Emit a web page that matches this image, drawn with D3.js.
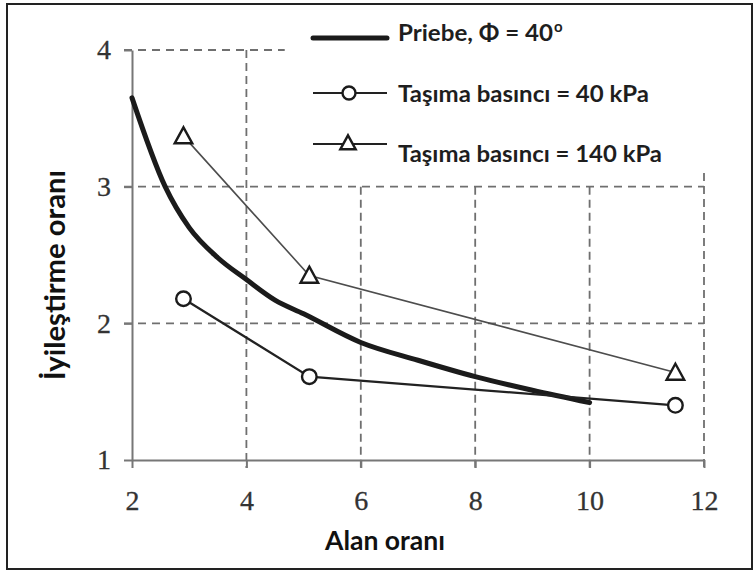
<!DOCTYPE html>
<html>
<head>
<meta charset="utf-8">
<script src="https://cdn.jsdelivr.net/npm/d3@7"></script>
<style>
  html, body { margin: 0; padding: 0; background: #ffffff; }
  svg { display: block; }
</style>
</head>
<body>
<svg id="chart" width="756" height="575"></svg>
<script>
// Alan oranı (x) and iyileştirme oranı (y)
const priebeX = [2.0, 2.58, 3.0, 3.5, 4.0, 4.5, 5.0, 6.0, 7.0, 8.0, 9.0, 10.0];
const priebeY = [3.65, 3.0, 2.70, 2.48, 2.32, 2.17, 2.07, 1.86, 1.73, 1.61, 1.51, 1.42];

const p40X = [2.9, 5.1, 11.5];
const p40Y = [2.18, 1.61, 1.40];

const p140X = [2.9, 5.1, 11.5];
const p140Y = [3.37, 2.35, 1.64];

const xTicks = [2, 4, 6, 8, 10, 12];
const yTicks = [1, 2, 3, 4];

const legendLabels = ["Priebe,  Φ = 40", "Taşıma basıncı = 40 kPa", "Taşıma basıncı = 140 kPa"];

// dashed grid segments (partly hidden behind the legend area)
const hGridY = [4, 3, 2];
const hGridX1 = [4.67, 12, 12];
const vGridX = [4, 6, 8, 10, 12];
const vGridY1 = [4, 3, 3, 3, 3.1];

const svg = d3.select("#chart");

// outer frame
svg.append("rect")
  .attr("x", 7).attr("y", 4).attr("width", 745).attr("height", 565)
  .attr("fill", "#ffffff").attr("stroke", "#222").attr("stroke-width", 2);

const x = d3.scaleLinear().domain([2, 12]).range([132, 704]);
const y = d3.scaleLinear().domain([1, 4]).range([460, 50]);

const gridColor = "#6f6f6f";
const grid = svg.append("g")
  .attr("stroke", gridColor).attr("stroke-width", 1.8)
  .attr("stroke-dasharray", "8,6").attr("fill", "none");

hGridY.forEach((v, i) => {
  grid.append("line")
    .attr("x1", x(2) - 8).attr("x2", x(hGridX1[i]))
    .attr("y1", y(v)).attr("y2", y(v));
});
vGridX.forEach((v, i) => {
  grid.append("line")
    .attr("x1", x(v)).attr("x2", x(v))
    .attr("y1", y(vGridY1[i])).attr("y2", y(1) + 8)
    .attr("stroke-dasharray", "8,5");
});

// axes
const serif = "'Liberation Serif', 'Times New Roman', serif";
const xAxis = svg.append("g")
  .attr("transform", `translate(0,${y(1)})`)
  .call(d3.axisBottom(x).tickValues(xTicks).tickFormat(d3.format("d"))
    .tickSize(8).tickSizeOuter(0).tickPadding(22));
const yAxis = svg.append("g")
  .attr("transform", `translate(${x(2)},0)`)
  .call(d3.axisLeft(y).tickValues(yTicks).tickFormat(d3.format("d"))
    .tickSize(8).tickSizeOuter(0).tickPadding(13));

[xAxis, yAxis].forEach(g => {
  g.attr("font-family", serif).attr("font-size", 28);
  g.select(".domain").attr("stroke", "#777").attr("stroke-width", 2);
  g.selectAll(".tick line").attr("stroke", "#777").attr("stroke-width", 2);
  g.selectAll(".tick text")
    .attr("fill", "#333")
    .attr("stroke", "#333").attr("stroke-width", 0.3);
});
xAxis.selectAll(".tick text").attr("dy", "0.71em");

// Priebe curve
const priebeLine = d3.line()
  .x(d => x(d[0])).y(d => y(d[1]))
  .curve(d3.curveMonotoneX);
svg.append("path")
  .datum(d3.zip(priebeX, priebeY))
  .attr("d", priebeLine)
  .attr("fill", "none").attr("stroke", "#1b1b1b")
  .attr("stroke-width", 5).attr("stroke-linecap", "round").attr("stroke-linejoin", "round");

const straight = d3.line().x(d => x(d[0])).y(d => y(d[1]));

// 140 kPa series
svg.append("path")
  .datum(d3.zip(p140X, p140Y))
  .attr("d", straight)
  .attr("fill", "none").attr("stroke", "#4d4d4d").attr("stroke-width", 1.6);

// 40 kPa series
svg.append("path")
  .datum(d3.zip(p40X, p40Y))
  .attr("d", straight)
  .attr("fill", "none").attr("stroke", "#222").attr("stroke-width", 2.2);

const triPath = s => `M0,${-s * 0.55}L${s * 0.55},${s * 0.45}L${-s * 0.55},${s * 0.45}Z`;

svg.append("g").selectAll("path")
  .data(d3.zip(p140X, p140Y))
  .join("path")
  .attr("transform", d => `translate(${x(d[0])},${y(d[1])})`)
  .attr("d", triPath(16))
  .attr("fill", "#fff").attr("stroke", "#1b1b1b").attr("stroke-width", 2.4)
  .attr("stroke-linejoin", "miter");

svg.append("g").selectAll("circle")
  .data(d3.zip(p40X, p40Y))
  .join("circle")
  .attr("cx", d => x(d[0])).attr("cy", d => y(d[1]))
  .attr("r", 7.3)
  .attr("fill", "#fff").attr("stroke", "#1b1b1b").attr("stroke-width", 2.4);

// legend
const labelFont = "Lato, 'Open Sans', sans-serif";
const legRows = [38, 93, 144];
const leg = svg.append("g");
leg.append("line").attr("x1", 313).attr("x2", 387).attr("y1", legRows[0]).attr("y2", legRows[0])
  .attr("stroke", "#1b1b1b").attr("stroke-width", 5).attr("stroke-linecap", "round");
leg.append("line").attr("x1", 313).attr("x2", 387).attr("y1", legRows[1]).attr("y2", legRows[1])
  .attr("stroke", "#222").attr("stroke-width", 2.2);
leg.append("circle").attr("cx", 349).attr("cy", legRows[1]).attr("r", 6.5)
  .attr("fill", "#fff").attr("stroke", "#1b1b1b").attr("stroke-width", 2.4);
leg.append("line").attr("x1", 313).attr("x2", 387).attr("y1", legRows[2]).attr("y2", legRows[2])
  .attr("stroke", "#222").attr("stroke-width", 2.2);
leg.append("path").attr("transform", `translate(348,${legRows[2] - 1})`).attr("d", triPath(14))
  .attr("fill", "#fff").attr("stroke", "#1b1b1b").attr("stroke-width", 2.4);

const legTextY = [41, 102, 162];
const legWidths = [155, 251, 264];
legendLabels.forEach((t, i) => {
  const tx = leg.append("text")
    .attr("x", 398).attr("y", legTextY[i])
    .attr("fill", "#1e1e1e")
    .style("font-family", labelFont).style("font-weight", "bold").style("font-size", "23px")
    .text(t);
  tx.attr("textLength", legWidths[i]).attr("lengthAdjust", "spacingAndGlyphs");
  if (i === 0) {
    leg.append("text")
      .attr("x", 398 + legWidths[0] + 1).attr("y", legTextY[0] - 9)
      .attr("fill", "#1e1e1e")
      .style("font-family", labelFont).style("font-weight", "bold").style("font-size", "15px")
      .text("o");
  }
});

// axis titles
svg.append("text")
  .attr("x", 385).attr("y", 550).attr("text-anchor", "middle")
  .attr("fill", "#111")
  .style("font-family", labelFont).style("font-weight", "bold").style("font-size", "27px")
  .attr("textLength", 120).attr("lengthAdjust", "spacingAndGlyphs")
  .text("Alan oranı");

svg.append("text")
  .attr("transform", "translate(65,275) rotate(-90)")
  .attr("text-anchor", "middle")
  .attr("fill", "#111")
  .style("font-family", labelFont).style("font-weight", "bold").style("font-size", "28px")
  .attr("textLength", 210).attr("lengthAdjust", "spacingAndGlyphs")
  .text("İyileştirme oranı");
</script>
</body>
</html>
